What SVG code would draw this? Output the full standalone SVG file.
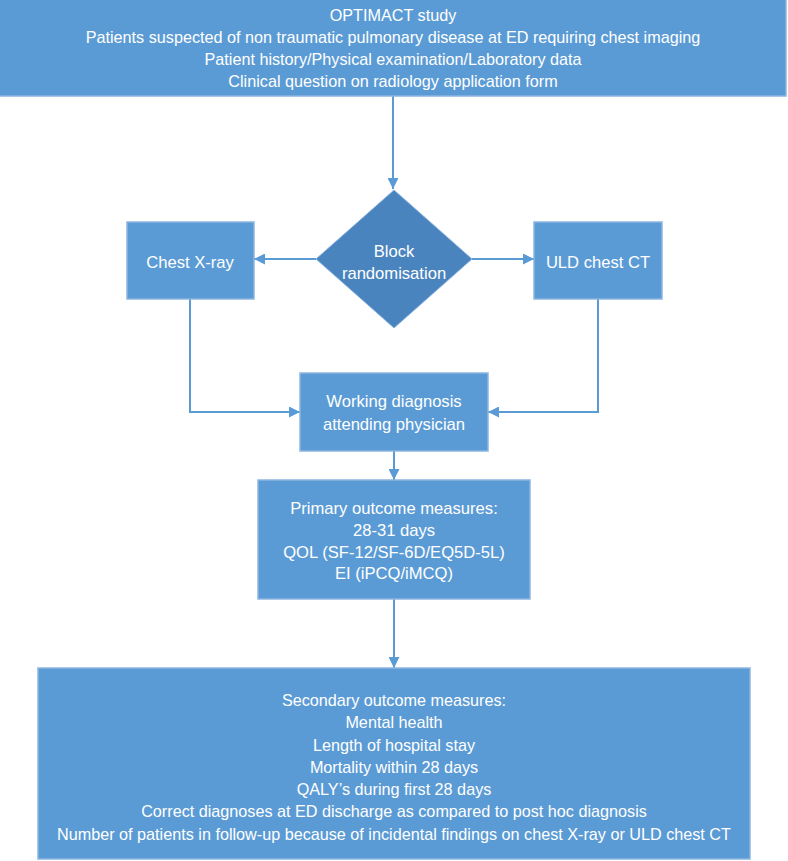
<svg xmlns="http://www.w3.org/2000/svg" width="788" height="861" viewBox="0 0 788 861">
<style>
.box{fill:#5B9BD5;stroke:#8DB5E0;stroke-width:1.5}
.dia{fill:#4A84BE;stroke:#8DB5E0;stroke-width:1}
.t{font-family:"Liberation Sans",Arial,sans-serif;font-size:16.2px;fill:#fff;text-anchor:middle;dominant-baseline:central}
.m{font-size:16.6px}
.c{fill:none;stroke:#5B9BD5;stroke-width:2}
</style>
<defs>
<marker id="ah" viewBox="0 0 10 10" refX="10" refY="5" markerWidth="5.5" markerHeight="5.5" orient="auto" markerUnits="strokeWidth">
<path d="M0,0 L10,5 L0,10 z" fill="#5B9BD5"/>
</marker>
</defs>
<rect width="788" height="861" fill="#fff"/>
<g id="connectors">
<line class="c" x1="393" y1="96" x2="393" y2="189" marker-end="url(#ah)"/>
<line class="c" x1="316" y1="259" x2="254" y2="259" marker-end="url(#ah)"/>
<line class="c" x1="472" y1="259" x2="534" y2="259" marker-end="url(#ah)"/>
<polyline class="c" points="190,297 190,412 300,412" marker-end="url(#ah)"/>
<polyline class="c" points="598,297 598,412 488,412" marker-end="url(#ah)"/>
<line class="c" x1="394" y1="450" x2="394" y2="480" marker-end="url(#ah)"/>
<line class="c" x1="394" y1="599" x2="394" y2="668" marker-end="url(#ah)"/>
</g>
<g id="top">
<rect class="box" x="-1" y="-1" width="787" height="97"/>
<text class="t" x="393" y="15">OPTIMACT study</text>
<text class="t" x="393" y="37">Patients suspected of non traumatic pulmonary disease at ED requiring chest imaging</text>
<text class="t" x="393" y="59">Patient history/Physical examination/Laboratory data</text>
<text class="t" x="393" y="81">Clinical question on radiology application form</text>
</g>
<g id="randomisation">
<polygon class="dia" points="394,190 472,259 394,328 316,259"/>
<text class="t m" x="394" y="251">Block</text>
<text class="t m" x="394" y="273">randomisation</text>
</g>
<g id="xray">
<rect class="box" x="127" y="222" width="127" height="77"/>
<text class="t m" x="190" y="262">Chest X-ray</text>
</g>
<g id="ct">
<rect class="box" x="534" y="222" width="128" height="77"/>
<text class="t m" x="598" y="262">ULD chest CT</text>
</g>
<g id="working">
<rect class="box" x="300" y="373" width="188" height="78"/>
<text class="t m" x="394" y="401">Working diagnosis</text>
<text class="t m" x="394" y="424">attending physician</text>
</g>
<g id="primary">
<rect class="box" x="258" y="480" width="272" height="119"/>
<text class="t m" x="394" y="508">Primary outcome measures:</text>
<text class="t m" x="394" y="530">28-31 days</text>
<text class="t m" x="394" y="552">QOL (SF-12/SF-6D/EQ5D-5L)</text>
<text class="t m" x="394" y="573">EI (iPCQ/iMCQ)</text>
</g>
<g id="secondary">
<rect class="box" x="38" y="668" width="712" height="191"/>
<text class="t" x="394" y="700">Secondary outcome measures:</text>
<text class="t" x="394" y="722">Mental health</text>
<text class="t" x="394" y="745">Length of hospital stay</text>
<text class="t" x="394" y="767">Mortality within 28 days</text>
<text class="t" x="394" y="789">QALY’s during first 28 days</text>
<text class="t" x="394" y="811">Correct diagnoses at ED discharge as compared to post hoc diagnosis</text>
<text class="t" x="394" y="834">Number of patients in follow-up because of incidental findings on chest X-ray or ULD chest CT</text>
</g>
</svg>
